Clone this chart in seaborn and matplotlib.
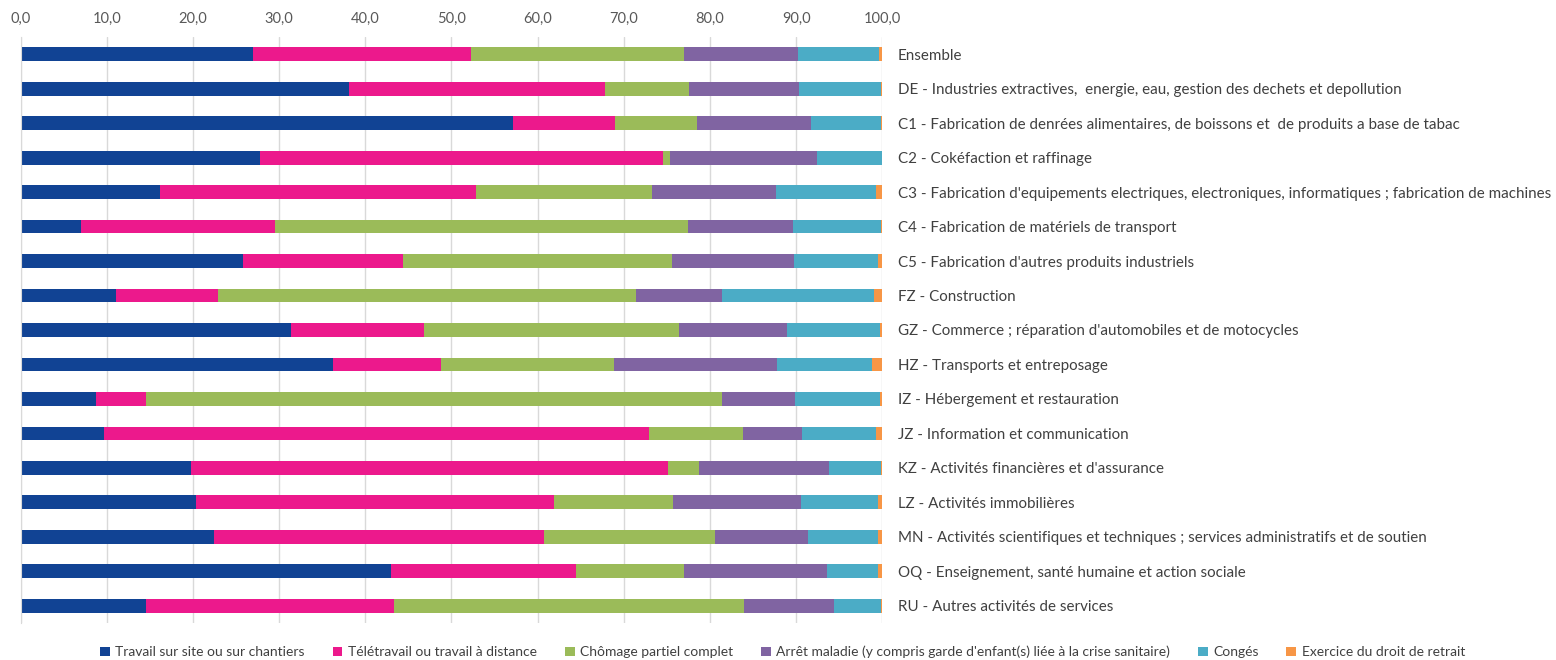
import numpy as np
import pandas as pd
import matplotlib
matplotlib.use("Agg")
import matplotlib.pyplot as plt
from matplotlib.patches import Patch
import seaborn as sns

# -------------------------------
# Data (share of employees, %)
# -------------------------------
secteurs = [
    "Ensemble",
    "DE - Industries extractives,  energie, eau, gestion des dechets et depollution",
    "C1 - Fabrication de denrées alimentaires, de boissons et  de produits a base de tabac",
    "C2 - Cokéfaction et raffinage",
    "C3 - Fabrication d'equipements electriques, electroniques, informatiques ; fabrication de machines",
    "C4 - Fabrication de matériels de transport",
    "C5 - Fabrication d'autres produits industriels",
    "FZ - Construction",
    "GZ - Commerce ; réparation d'automobiles et de motocycles",
    "HZ - Transports et entreposage",
    "IZ - Hébergement et restauration",
    "JZ - Information et communication",
    "KZ - Activités financières et d'assurance",
    "LZ - Activités immobilières",
    "MN - Activités scientifiques et techniques ; services administratifs et de soutien",
    "OQ - Enseignement, santé humaine et action sociale",
    "RU - Autres activités de services",
]

series_names = [
    "Travail sur site ou sur chantiers",
    "Télétravail ou travail à distance",
    "Chômage partiel complet",
    "Arrêt maladie (y compris garde d'enfant(s) liée à la crise sanitaire)",
    "Congés",
    "Exercice du droit de retrait",
]

travail_site = [27.0, 38.1, 57.1, 27.8, 16.2, 7.0, 25.8, 11.1, 31.4, 36.2, 8.7, 9.7, 19.8, 20.4, 22.4, 43.0, 14.5]
teletravail  = [25.3, 29.7, 11.9, 46.7, 36.6, 22.5, 18.6, 11.8, 15.4, 12.6, 5.8, 63.2, 55.3, 41.5, 38.3, 21.5, 28.8]
chomage      = [24.7, 9.8, 9.5, 0.9, 20.5, 47.9, 31.2, 48.5, 29.6, 20.1, 66.9, 10.9, 3.6, 13.8, 19.9, 12.5, 40.7]
arret        = [13.2, 12.7, 13.2, 17.0, 14.4, 12.2, 14.2, 10.0, 12.6, 18.9, 8.5, 6.9, 15.1, 14.9, 10.8, 16.6, 10.4]
conges       = [9.4, 9.6, 8.2, 7.6, 11.6, 10.2, 9.7, 17.7, 10.7, 11.0, 9.8, 8.6, 6.1, 8.9, 8.1, 5.9, 5.5]
retrait      = [0.4, 0.1, 0.1, 0.0, 0.7, 0.2, 0.5, 0.9, 0.3, 1.2, 0.3, 0.7, 0.1, 0.5, 0.5, 0.5, 0.1]

colors = ["#114394", "#EC198C", "#9BBB59", "#8064A2", "#4BACC6", "#F79646"]

# -------------------------------
# Build table + cumulative sums
# -------------------------------
df = pd.DataFrame({
    "Secteur": secteurs,
    series_names[0]: travail_site,
    series_names[1]: teletravail,
    series_names[2]: chomage,
    series_names[3]: arret,
    series_names[4]: conges,
    series_names[5]: retrait,
})
cum = df[series_names].cumsum(axis=1)
cum["Secteur"] = df["Secteur"]

# -------------------------------
# Plot
# -------------------------------
sns.set_style("white")
plt.rcParams['font.family'] = ['Lato', 'DejaVu Sans']

fig = plt.figure(figsize=(15.56, 6.6), dpi=100)
ax = fig.add_axes([0.0133, 0.056, 0.5537, 0.888])

# draw from the largest cumulative to the smallest so each layer sits on top
for name, col in reversed(list(zip(series_names, colors))):
    sns.barplot(data=cum, x=name, y="Secteur", orient="h", color=col,
                width=0.4, saturation=1, ax=ax, edgecolor="none")

ax.set_xlim(0, 100)
ax.set_ylim(16.5, -0.5)
ax.set_xlabel("")
ax.set_ylabel("")

ax.xaxis.tick_top()
ax.set_xticks(np.arange(0, 101, 10))
ax.set_xticklabels([f"{v:.1f}".replace(".", ",") for v in range(0, 101, 10)])
ax.tick_params(axis="x", length=0, pad=8, labelsize=10.5, colors="#595959")

ax.yaxis.tick_right()
ax.tick_params(axis="y", length=0, pad=11, labelsize=10.9, colors="#404040")

ax.grid(axis="x", color="#d9d9d9", linewidth=1)
ax.set_axisbelow(True)
for side in ["top", "right", "bottom"]:
    ax.spines[side].set_visible(False)
ax.spines["left"].set_color("#d9d9d9")

handles = [Patch(facecolor=c, edgecolor="none") for c in colors]
fig.legend(handles, series_names, loc="center", bbox_to_anchor=(0.503, 0.012),
           ncol=6, frameon=False, fontsize=10, handlelength=0.7, handleheight=0.7,
           handletextpad=0.4, columnspacing=2.0, labelcolor="#404040")

fig.savefig("out.png", dpi=100)
